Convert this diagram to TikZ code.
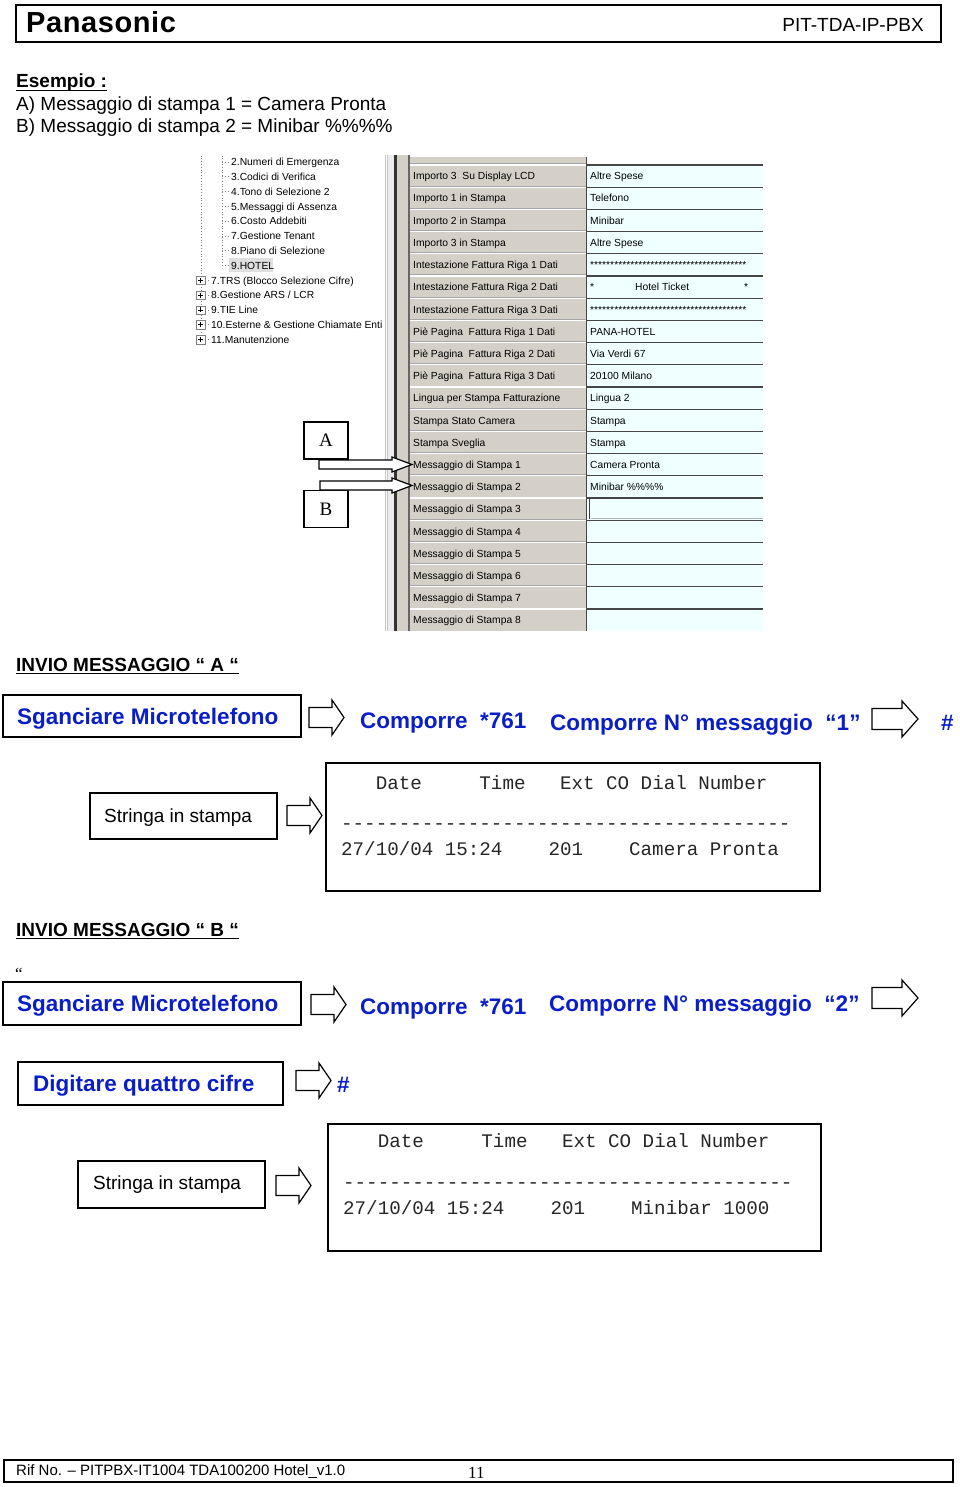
\documentclass[tikz,border=0pt]{standalone}
\usepackage{fontspec}
\setmainfont{Liberation Sans}
\setmonofont{Liberation Mono}
\newfontfamily\serifA{Liberation Serif}
\usetikzlibrary{calc}
\definecolor{stepblue}{RGB}{10,30,200}
\definecolor{wingray}{RGB}{212,208,200}
\definecolor{cellcyan}{RGB}{240,255,255}
\definecolor{rowline}{RGB}{70,70,70}
\tikzset{
  lbl/.style={inner sep=0pt, anchor=base west, font=\fontsize{19}{22}\selectfont},
  bluetxt/.style={inner sep=0pt, anchor=base west, text=stepblue, font=\bfseries\fontsize{22.5}{26}\selectfont},
  framebox/.style={draw, line width=1.4pt, inner sep=0pt},
  monotxt/.style={inner sep=0pt, anchor=base west, text=black!85, font=\ttfamily\fontsize{19.2}{22}\selectfont},
  smalltxt/.style={inner sep=0pt, anchor=base west, font=\fontsize{10.3}{12}\selectfont},
  arrline/.style={draw, line width=1.2pt, fill=white, line join=miter},
  uline/.style={line width=1.3pt},
  pics/barrow/.style n args={4}{code={
    \path[arrline] (0,-#4) -- (#3,-#4) -- (#3,-#2) -- (#1,0) -- (#3,#2) -- (#3,#4) -- (0,#4) -- cycle;}}
}
\begin{document}
\begin{tikzpicture}[x=1pt,y=-1pt]
\useasboundingbox (0,0) rectangle (960,1487);
\fill[white] (0,0) rectangle (960,1487);

% header
\node[framebox, minimum width=925, minimum height=37] (hdr) at (478.5,23.5) {};
\node[inner sep=0pt, anchor=base west, font=\bfseries\fontsize{29}{30}\selectfont] (pan) at (26,33) {P\kern0.6pt a\kern0.6pt n\kern0.6pt a\kern0.6pt s\kern0.6pt o\kern0.6pt n\kern0.6pt i\kern0.6pt c};
\node[inner sep=0pt, anchor=base east, font=\fontsize{19}{22}\selectfont] (pit) at (924,32) {PIT-TDA-IP-PBX};

% example
\node[lbl, font=\bfseries\fontsize{19}{22}\selectfont] (es) at (16,88) {Esempio :};
\draw[uline] ($(es.base west)+(0,2.5)$) -- ($(es.base east)+(0,2.5)$);
\node[lbl] (exA) at (16,111) {A) Messaggio di stampa 1 = Camera Pronta};
\node[lbl] (exB) at (16,133) {B) Messaggio di stampa 2 = Minibar \%\%\%\%};

% ---------- screenshot: tree ----------
\begin{scope}
\clip (188,157) rectangle (385.5,350);
\draw[gray, dotted, line width=0.8pt] (201,150) -- (201,340);
\draw[gray, dotted, line width=0.8pt] (222,150) -- (222,265.6);
\fill[gray!25] (229,258.5) rectangle (273,272.5);
\foreach \t [count=\i from 0] in {2.Numeri di Emergenza,3.Codici di Verifica,4.Tono di Selezione 2,5.Messaggi di Assenza,6.Costo Addebiti,7.Gestione Tenant,8.Piano di Selezione,9.HOTEL}{
  \draw[gray, dotted, line width=0.8pt] (222,{162+14.8*\i}) -- (229,{162+14.8*\i});
  \node[smalltxt] (tree\i) at (231,{165.7+14.8*\i}) {\t};
}
\foreach \t [count=\i from 8] in {7.TRS (Blocco Selezione Cifre),8.Gestione ARS / LCR,9.TIE Line,10.Esterne \& Gestione Chiamate Enti,11.Manutenzione}{
  \draw[gray, dotted, line width=0.8pt] (205,{162+14.8*\i}) -- (210,{162+14.8*\i});
  \node[draw=gray, fill=white, minimum size=8.5pt, inner sep=0pt] (plus\i) at (200.5,{162+14.8*\i}) {};
  \draw[line width=0.7pt] (198,{162+14.8*\i}) -- (203,{162+14.8*\i}) (200.5,{159.5+14.8*\i}) -- (200.5,{164.5+14.8*\i});
  \node[smalltxt] (tree\i) at (211,{165.7+14.8*\i}) {\t};
}
\end{scope}

% ---------- screenshot: band ----------
\fill[gray!45] (385,155) rectangle (386.2,631);
\fill[gray!45] (387.2,155) rectangle (388.4,631);
\fill[gray!15] (388.4,155) rectangle (393.5,631);
\fill[black!80] (393.5,155) rectangle (397,631);
\fill[wingray] (397,155) rectangle (408.3,631);
\fill[black!60] (408.3,155) rectangle (409.6,631);

% ---------- screenshot: table ----------
\fill[wingray] (410,157) rectangle (585.5,631);
\fill[cellcyan] (587,165) rectangle (763,631);
\foreach \i in {0,...,20}{
  \draw[gray!70, line width=1pt] (410,{165+22.2*\i-1}) -- (585.5,{165+22.2*\i-1});
  \draw[white, line width=1.2pt] (410,{165+22.2*\i}) -- (585.5,{165+22.2*\i});
  \draw[rowline, line width=1.3pt] (587,{165+22.2*\i}) -- (763,{165+22.2*\i});
}
\draw[rowline, line width=1.2pt] (586.2,157) -- (586.2,631);
% sunken cell of row 15
\draw[black!75, line width=1.3pt] (589.5,519) -- (589.5,498.5) -- (763,498.5);
\draw[gray!60, line width=1pt] (590.5,518.5) -- (763,518.5);

\foreach \l [count=\i from 0] in {Importo 3\ \ Su Display LCD,Importo 1 in Stampa,Importo 2 in Stampa,Importo 3 in Stampa,Intestazione Fattura Riga 1 Dati,Intestazione Fattura Riga 2 Dati,Intestazione Fattura Riga 3 Dati,Piè Pagina\ \ Fattura Riga 1 Dati,Piè Pagina\ \ Fattura Riga 2 Dati,Piè Pagina\ \ Fattura Riga 3 Dati,Lingua per Stampa Fatturazione,Stampa Stato Camera,Stampa Sveglia,Messaggio di Stampa 1,Messaggio di Stampa 2,Messaggio di Stampa 3,Messaggio di Stampa 4,Messaggio di Stampa 5,Messaggio di Stampa 6,Messaggio di Stampa 7,Messaggio di Stampa 8}{
  \node[smalltxt] (L\i) at (413,{179.8+22.2*\i}) {\l};
}
\foreach \r [count=\i from 0] in {Altre Spese,Telefono,Minibar,Altre Spese,***************************************,{},***************************************,PANA-HOTEL,Via Verdi 67,20100 Milano,Lingua 2,Stampa,Stampa,Camera Pronta,Minibar \%\%\%\%}{
  \node[smalltxt] (R\i) at (590,{179.8+22.2*\i}) {\r};
}
\node[smalltxt] (R5a) at (590,{179.8+22.2*5}) {*};
\node[smalltxt] (R5b) at (635,{179.8+22.2*5}) {Hotel Ticket};
\node[smalltxt] (R5c) at (744,{179.8+22.2*5}) {*};

% A / B markers
\node[draw, line width=1.3pt, minimum width=44, minimum height=37, inner sep=0pt, font=\serifA\fontsize{19}{20}\selectfont] (boxA) at (326,440.5) {A};
\node[draw, line width=1.3pt, minimum width=44, minimum height=37, inner sep=0pt, font=\serifA\fontsize{19}{20}\selectfont] (boxB) at (326,509) {B};
\coordinate (aStart) at (319,464.5);
\coordinate (bStart) at (320,485.5);
\pic at (aStart) {barrow={93}{7.5}{73}{4.5}};
\pic at (bStart) {barrow={92}{7.5}{72}{4.5}};

% ---------- section A ----------
\node[lbl, font=\bfseries\fontsize{19}{22}\selectfont] (invA) at (16,671) {INVIO MESSAGGIO “ A “};
\draw[uline] ($(invA.base west)+(0,2.5)$) -- ($(invA.base east)+(0,2.5)$);
\node[framebox, minimum width=298, minimum height=42] (sgA) at (152,716) {};
\node[bluetxt] (sgAt) at (17,724) {Sganciare Microtelefono};
\pic at (309,717.5) {barrow={35}{17.5}{23}{10}};
\node[bluetxt] (c761A) at (360,728) {Comporre\ \ *761};
\node[bluetxt] (cnA) at (550,730) {Comporre N° messaggio\ \ “1”};
\pic at (872,719) {barrow={46}{18}{30}{10.5}};
\node[bluetxt] (hashA) at (941,730) {\#};

\node[framebox, minimum width=187, minimum height=46] (strA) at (183.5,816) {};
\node[lbl] (strAt) at (104,822) {Stringa in stampa};
\pic at (287,815.5) {barrow={35}{17.5}{23}{10}};
\node[draw, line width=1.8pt, minimum width=494, minimum height=128, inner sep=0pt] (prA) at (573,827) {};
\node[monotxt] (prA1) at (341,789) {~~~Date~~~~~Time~~~Ext~CO~Dial~Number};
\node[monotxt] (prA2) at (341,829) {---------------------------------------};
\node[monotxt] (prA3) at (341,855) {27/10/04~15:24~~~~201~~~~Camera~Pronta};

% ---------- section B ----------
\node[lbl, font=\bfseries\fontsize{19}{22}\selectfont] (invB) at (16,936) {INVIO MESSAGGIO “ B “};
\draw[uline] ($(invB.base west)+(0,2.5)$) -- ($(invB.base east)+(0,2.5)$);
\node[inner sep=0pt, anchor=base west, font=\serifA\fontsize{17}{17}\selectfont] (qB) at (15,979) {“};
\node[framebox, minimum width=298, minimum height=43] (sgB) at (152,1003.5) {};
\node[bluetxt] (sgBt) at (17,1011) {Sganciare Microtelefono};
\pic at (311,1004.5) {barrow={35}{17.5}{23}{10}};
\node[bluetxt] (c761B) at (360,1014) {Comporre\ \ *761};
\node[bluetxt] (cnB) at (549,1011) {Comporre N° messaggio\ \ “2”};
\pic at (872,998) {barrow={46}{18}{30}{10.5}};

\node[framebox, minimum width=265, minimum height=43] (dig) at (150.5,1083.5) {};
\node[bluetxt] (digt) at (33,1091) {Digitare quattro cifre};
\pic at (296,1080.5) {barrow={35}{17.5}{23}{10}};
\node[bluetxt] (hashB) at (337,1092) {\#};

\node[framebox, minimum width=187, minimum height=47] (strB) at (171.5,1184.5) {};
\node[lbl] (strBt) at (93,1189) {Stringa in stampa};
\pic at (276,1185.5) {barrow={35}{17.5}{23}{10}};
\node[draw, line width=1.8pt, minimum width=493, minimum height=127, inner sep=0pt] (prB) at (574.5,1187.5) {};
\node[monotxt] (prB1) at (343,1147) {~~~Date~~~~~Time~~~Ext~CO~Dial~Number};
\node[monotxt] (prB2) at (343,1188) {---------------------------------------};
\node[monotxt] (prB3) at (343,1214) {27/10/04~15:24~~~~201~~~~Minibar~1000};

% footer
\node[draw, line width=1.6pt, minimum width=949, minimum height=22, inner sep=0pt] (foot) at (478.5,1471) {};
\node[inner sep=0pt, anchor=base west, font=\fontsize{15}{16}\selectfont] (ref) at (16,1475) {Rif No. – PITPBX-IT1004 TDA100200 Hotel\_v1.0};
\node[inner sep=0pt, anchor=base west, font=\serifA\fontsize{17}{18}\selectfont] (pg) at (468,1478) {11};
\end{tikzpicture}
\end{document}
